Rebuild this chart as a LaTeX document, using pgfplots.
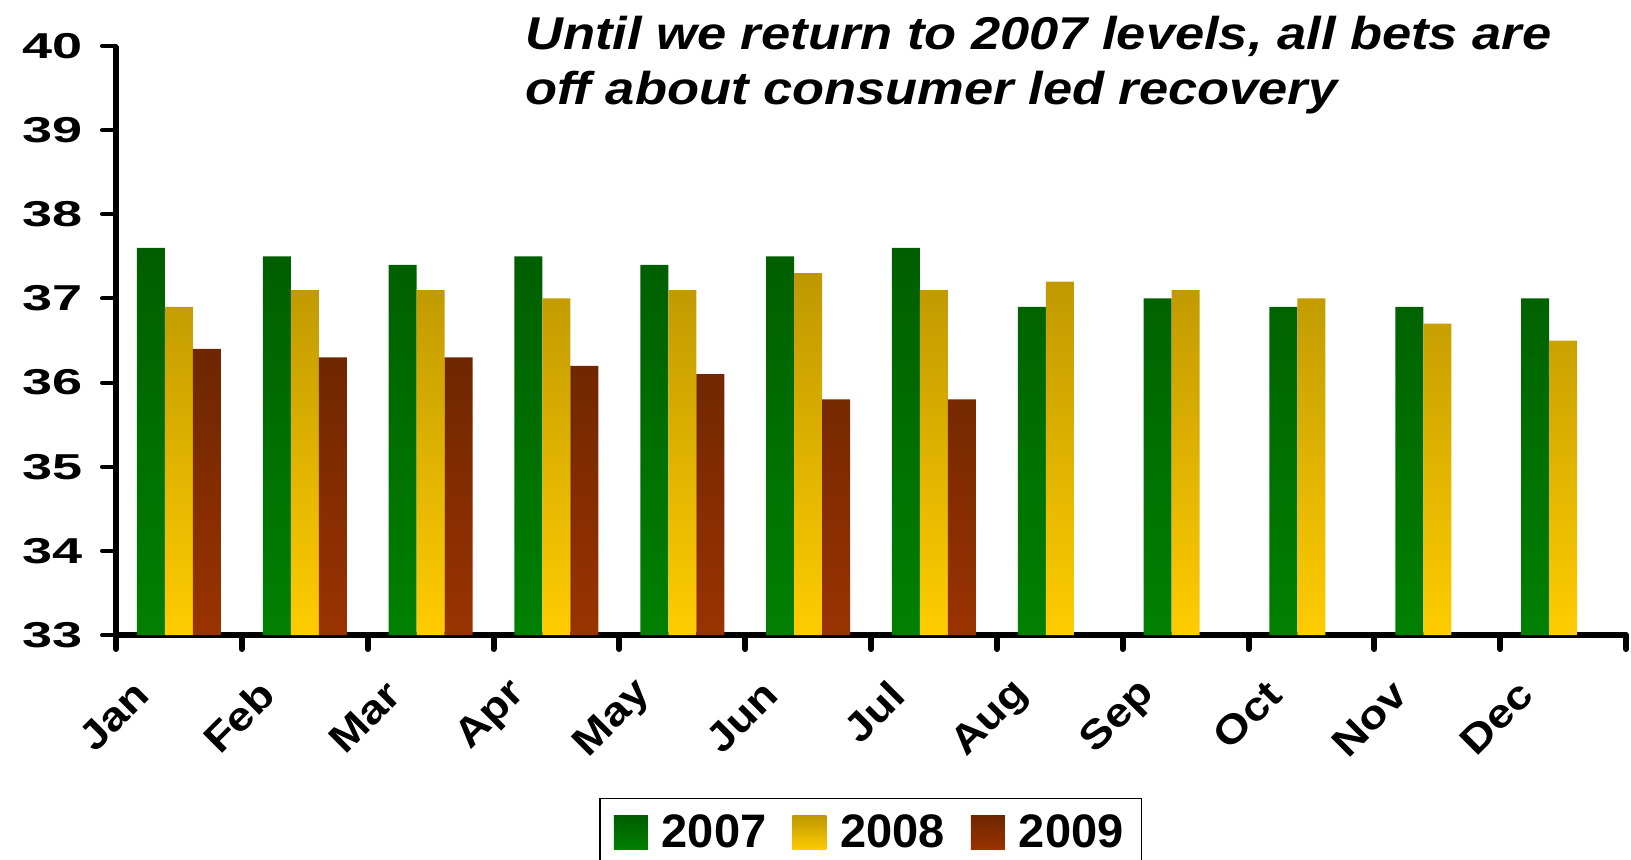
\documentclass[border=0pt]{standalone}
\usepackage{pgfplots}
\pgfplotsset{compat=1.18}
\usepackage{fontspec}
\setmainfont{Liberation Sans}
\usepackage{graphicx}

\definecolor{gtop}{HTML}{005E00}
\definecolor{gbot}{HTML}{008000}
\definecolor{ytop}{HTML}{BE9800}
\definecolor{ybot}{HTML}{FFCC00}
\definecolor{btop}{HTML}{6E2600}
\definecolor{bbot}{HTML}{9A3300}

\newcommand{\sy}[1]{\scalebox{1.5}[1]{#1}}
\newcommand{\sx}[1]{\scalebox{1.15}[1]{#1}}

\begin{document}
\begin{tikzpicture}
\path[use as bounding box] (-58pt,-112pt) rectangle (757.5pt,317.5pt);
\begin{axis}[
  at={(0pt,0pt)}, anchor=origin,
  scale only axis, width=755pt, height=294.5pt,
  xmin=0.5, xmax=12.5, ymin=0, ymax=7,
  y filter/.expression={y-33},
  ybar=0pt, bar width=14pt,
  axis x line*=bottom, axis y line*=left,
  axis line style={line width=3pt, -},
  ytick={0,...,7},
  yticklabels={\sy{33},\sy{34},\sy{35},\sy{36},\sy{37},\sy{38},\sy{39},\sy{40}},
  y tick label style={font=\bfseries\fontsize{18}{18}\selectfont, xshift=-6pt},
  ytick style={line width=2pt, black, line cap=round},
  tick align=outside, major tick length=7pt,
  xtick={0.5,1.5,...,12.5},
  xticklabels={},
  x tick style={line width=3pt, black, line cap=round},
  extra x ticks={1,...,12},
  extra x tick labels={\sx{Jan},\sx{Feb},\sx{Mar},\sx{Apr},\sx{May},\sx{Jun},\sx{Jul},\sx{Aug},\sx{Sep},\sx{Oct},\sx{Nov},\sx{Dec}},
  extra x tick style={major tick length=0pt,
    xticklabel style={font=\bfseries\fontsize{20}{20}\selectfont, xshift=-16pt, yshift=-24pt, rotate=45, anchor=east}},
  legend columns=3,
  legend style={at={(0.3199,-0.2767)}, anchor=north west, draw=black, line width=0.75pt,
    font=\bfseries\fontsize{23.5}{23.5}\selectfont, inner xsep=7pt, inner ysep=6pt,
    /tikz/every odd column/.append style={column sep=5pt},
    /tikz/every even column/.append style={column sep=11pt}},
  legend image code/.code={\path[#1, draw=none] (0pt,-8.5pt) rectangle (17pt,8.5pt);},
]
\addplot[draw=none, top color=gtop, bottom color=gbot] coordinates {
  (1,37.6) (2,37.5) (3,37.4) (4,37.5) (5,37.4) (6,37.5)
  (7,37.6) (8,36.9) (9,37.0) (10,36.9) (11,36.9) (12,37.0)};
\addplot[draw=none, top color=ytop, bottom color=ybot] coordinates {
  (1,36.9) (2,37.1) (3,37.1) (4,37.0) (5,37.1) (6,37.3)
  (7,37.1) (8,37.2) (9,37.1) (10,37.0) (11,36.7) (12,36.5)};
\addplot[draw=none, top color=btop, bottom color=bbot] coordinates {
  (1,36.4) (2,36.3) (3,36.3) (4,36.2) (5,36.1) (6,35.8) (7,35.8)};
\legend{2007,2008,2009}
\end{axis}
\node[anchor=base west, inner sep=0pt, font=\bfseries\itshape\fontsize{23}{23}\selectfont] at (204.5pt,293pt) {\scalebox{1.14}[1]{Until we return to 2007 levels, all bets are}};
\node[anchor=base west, inner sep=0pt, font=\bfseries\itshape\fontsize{23}{23}\selectfont] at (204.5pt,265.5pt) {\scalebox{1.14}[1]{off about consumer led recovery}};
\end{tikzpicture}
\end{document}
